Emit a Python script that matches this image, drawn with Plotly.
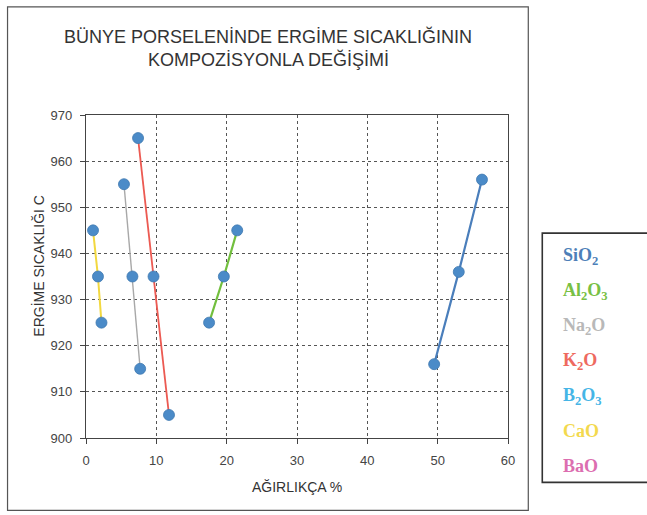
import plotly.graph_objects as go

# Melting temperature vs. weight percentage of each oxide in the porcelain body
series_names = ["SiO2", "Al2O3", "Na2O", "K2O", "CaO"]
x_sio2 = [49.5, 53.0, 56.3]
y_sio2 = [916, 936, 956]
x_al2o3 = [17.5, 19.6, 21.5]
y_al2o3 = [925, 935, 945]
x_na2o = [5.4, 6.6, 7.7]
y_na2o = [955, 935, 915]
x_k2o = [7.4, 9.6, 11.8]
y_k2o = [965, 935, 905]
x_cao = [1.0, 1.7, 2.2]
y_cao = [945, 935, 925]

legend_labels = ["SiO<sub>2</sub>", "Al<sub>2</sub>O<sub>3</sub>", "Na<sub>2</sub>O", "K<sub>2</sub>O",
                 "B<sub>2</sub>O<sub>3</sub>", "CaO", "BaO"]
legend_colors = ["#4d7fb8", "#78c044", "#b8b8b8", "#ee6a5f", "#45b5e6", "#f3d94e", "#dc6eb0"]

x_ticks = [0, 10, 20, 30, 40, 50, 60]
y_ticks = [900, 910, 920, 930, 940, 950, 960, 970]

title_lines = ["BÜNYE PORSELENİNDE ERGİME SICAKLIĞININ", "KOMPOZİSYONLA DEĞİŞİMİ"]
x_title = "AĞIRLIKÇA %"
y_title = "ERGİME SICAKLIĞI C"

W, H = 647, 515
ML, MR, MT, MB = 85.5, 139.3, 115, 77.3
PW, PH = W - ML - MR, H - MT - MB


def px(x):
    return (x - ML) / PW


def py(y):
    return 1 - (y - MT) / PH


line_colors = {"SiO2": "#4a7ebb", "Al2O3": "#72bf3e", "Na2O": "#a8a8a8",
               "K2O": "#ec5a52", "CaO": "#f2d840"}
line_widths = {"SiO2": 2.2, "Al2O3": 2.2, "Na2O": 1.4, "K2O": 1.8, "CaO": 2.0}
data = {"SiO2": (x_sio2, y_sio2), "Al2O3": (x_al2o3, y_al2o3), "Na2O": (x_na2o, y_na2o),
        "K2O": (x_k2o, y_k2o), "CaO": (x_cao, y_cao)}

fig = go.Figure()
for name in series_names:
    xs, ys = data[name]
    fig.add_trace(go.Scatter(
        x=xs, y=ys, mode="lines", name=name,
        line=dict(color=line_colors[name], width=line_widths[name]),
        showlegend=False, hoverinfo="skip"))
for name in series_names:
    xs, ys = data[name]
    fig.add_trace(go.Scatter(
        x=xs, y=ys, mode="markers", name=name,
        marker=dict(color="#4b8bc8", size=11, line=dict(color="#3f78b0", width=0.8)),
        showlegend=False))

shapes = [
    # outer chart frame
    dict(type="rect", xref="paper", yref="paper", x0=px(7), x1=px(528), y0=py(510), y1=py(7),
         line=dict(color="#555555", width=1.2), layer="below"),
    # legend frame
    dict(type="rect", xref="paper", yref="paper", x0=px(542), x1=px(660), y0=py(482), y1=py(233),
         line=dict(color="#333333", width=1.6)),
]

annotations = []
for i, t in enumerate(title_lines):
    annotations.append(dict(text=t, xref="paper", yref="paper", x=px(268), y=py(37 + i * 23),
                            xanchor="center", yanchor="middle", showarrow=False,
                            font=dict(family="Liberation Sans", size=18, color="#333333")))
annotations.append(dict(text=x_title, xref="paper", yref="paper", x=px(297), y=py(487),
                        xanchor="center", yanchor="middle", showarrow=False,
                        font=dict(family="Liberation Sans", size=14, color="#333333")))
annotations.append(dict(text=y_title, xref="paper", yref="paper", x=px(38), y=py(266),
                        xanchor="center", yanchor="middle", showarrow=False, textangle=-90,
                        font=dict(family="Liberation Sans", size=14, color="#333333")))
for i, (lab, col) in enumerate(zip(legend_labels, legend_colors)):
    annotations.append(dict(text="<b>" + lab + "</b>", xref="paper", yref="paper",
                            x=px(561), y=py(256 + i * 35), xanchor="left", yanchor="middle",
                            showarrow=False,
                            font=dict(family="Liberation Serif", size=18, color=col)))

fig.update_layout(
    width=W, height=H,
    margin=dict(l=ML, r=MR, t=MT, b=MB, pad=0),
    paper_bgcolor="white", plot_bgcolor="rgba(0,0,0,0)",
    shapes=shapes, annotations=annotations,
    xaxis=dict(range=[0, 60], tickvals=x_ticks, showgrid=True, gridcolor="#555555",
               griddash="dot", gridwidth=1, showline=True, linecolor="#444444", linewidth=1.2,
               mirror=True, ticks="outside", ticklen=5, tickcolor="#444444",
               ticklabelstandoff=5,
               tickfont=dict(family="Liberation Sans", size=13, color="#444444"),
               zeroline=False, fixedrange=True),
    yaxis=dict(range=[900, 970], tickvals=y_ticks, showgrid=True, gridcolor="#555555",
               griddash="dot", gridwidth=1, showline=True, linecolor="#444444", linewidth=1.2,
               mirror=True, ticks="outside", ticklen=5, tickcolor="#444444",
               ticklabelstandoff=5,
               tickfont=dict(family="Liberation Sans", size=13, color="#444444"),
               zeroline=False, fixedrange=True),
    showlegend=False,
)

fig.write_html("out.html")
